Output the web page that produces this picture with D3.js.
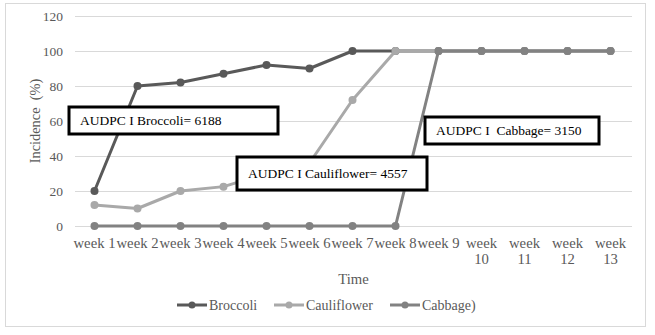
<!DOCTYPE html>
<html><head><meta charset="utf-8">
<script src="https://cdn.jsdelivr.net/npm/d3@7"></script>
<style>body{margin:0;background:#fff}svg{display:block}text{white-space:pre}</style>
</head><body><svg id="c" width="655" height="335"></svg>
<script>
const weeks = ["week 1","week 2","week 3","week 4","week 5","week 6","week 7","week 8","week 9","week 10","week 11","week 12","week 13"];
const broccoli = [20,80,82,87,92,90,100,100,100,100,100,100,100];
const cauliflower = [12,10,20,22.5,30,36,72,100,100,100,100,100,100];
const cabbage = [0,0,0,0,0,0,0,0,100,100,100,100,100];
const seriesNames = ["Broccoli","Cauliflower","Cabbage)"];
const yTicks = [0,20,40,60,80,100,120];
const annotationTexts = ["AUDPC I Broccoli= 6188","AUDPC I Cauliflower= 4557","AUDPC I  Cabbage= 3150"];
const colors = ["#595959","#a9a9a9","#828282"];
const font = "'Liberation Serif', serif";
const textCol = "#595959";

const svg = d3.select("#c");
svg.append("rect").attr("x",5.5).attr("y",3.5).attr("width",640).attr("height",323)
  .attr("fill","#fff").attr("stroke","#d9d9d9");

const m = {l:73, r:632, t:16, b:226};
const x = d3.scaleBand().domain(weeks).range([m.l,m.r]);
const y = d3.scaleLinear().domain([0,120]).range([m.b,m.t]);
const cx = w => x(w)+x.bandwidth()/2;

// grid
svg.append("g").selectAll("line").data(yTicks).join("line")
  .attr("x1",m.l+2).attr("x2",m.r).attr("y1",d=>y(d)+0.5).attr("y2",d=>y(d)+0.5)
  .attr("stroke","#d9d9d9").attr("stroke-width",1);

// y labels
const yAxis = d3.axisLeft(y).tickValues(yTicks).tickSize(0).tickPadding(0);
const ga = svg.append("g").attr("transform",`translate(63,0)`).call(yAxis);
ga.select(".domain").remove();
ga.selectAll("text").attr("font-family",font).attr("font-size",13.5).attr("fill",textCol);

// x labels
const xAxis = d3.axisBottom(x).tickSize(0).tickPadding(0);
const gx = svg.append("g").attr("transform",`translate(0,${m.b})`).call(xAxis);
gx.select(".domain").remove();
gx.selectAll("text").attr("font-family",font).attr("font-size",14.7).attr("fill",textCol)
  .attr("dy",0).attr("y",22)
  .each(function(d){
    const t = d3.select(this);
    const parts = d.split(" ");
    if (+parts[1] >= 10) {
      t.text(null);
      t.append("tspan").attr("x",0).attr("y",22).text(parts[0]);
      t.append("tspan").attr("x",0).attr("y",38).text(parts[1]);
    }
  });

// axis titles
svg.append("text").attr("x",(m.l+m.r)/2+1).attr("y",284).attr("text-anchor","middle")
  .attr("font-family",font).attr("font-size",14.7).attr("fill",textCol).text("Time");
svg.append("text").attr("transform",`translate(35,${(m.t+m.b)/2}) rotate(-90)`).attr("text-anchor","middle")
  .attr("dy","0.35em")
  .attr("font-family",font).attr("font-size",14.4).attr("fill",textCol).text("Incidence  (%)");

// series
const series = [broccoli,cauliflower,cabbage];
const line = d3.line().x((d,i)=>cx(weeks[i])).y(d=>y(d));
series.forEach((s,k)=>{
  const g = svg.append("g");
  g.append("path").datum(s).attr("d",line).attr("fill","none").attr("stroke",colors[k])
    .attr("stroke-width",3).attr("stroke-linejoin","round");
  g.selectAll("circle").data(s).join("circle").attr("cx",(d,i)=>cx(weeks[i])).attr("cy",d=>y(d))
    .attr("r",4).attr("fill",colors[k]);
});

// annotation boxes (layout)
const boxes = [
  {x0:69, y0:107, w:209, h:27},
  {x0:237, y0:157, w:190, h:33},
  {x0:425, y0:117, w:174, h:27}
];
annotationTexts.forEach((txt,i)=>{
  const b = boxes[i];
  const g = svg.append("g");
  g.append("rect").attr("x",b.x0).attr("y",b.y0).attr("width",b.w).attr("height",b.h)
    .attr("fill","#fff").attr("stroke","#000").attr("stroke-width",3);
  g.append("text").attr("x",b.x0+11).attr("y",b.y0+b.h/2).attr("dy","0.35em")
    .attr("font-family",font).attr("font-size",13.5).attr("fill","#000").text(txt);
});

// legend
const legX = [177,274,390];
seriesNames.forEach((n,k)=>{
  const g = svg.append("g").attr("transform",`translate(${legX[k]},305)`);
  g.append("line").attr("x1",0).attr("x2",30).attr("stroke",colors[k]).attr("stroke-width",3);
  g.append("circle").attr("cx",15).attr("r",3.5).attr("fill",colors[k]);
  g.append("text").attr("x",32).attr("dy","0.35em").attr("font-family",font).attr("font-size",14)
    .attr("fill",textCol).text(n);
});
</script></body></html>
